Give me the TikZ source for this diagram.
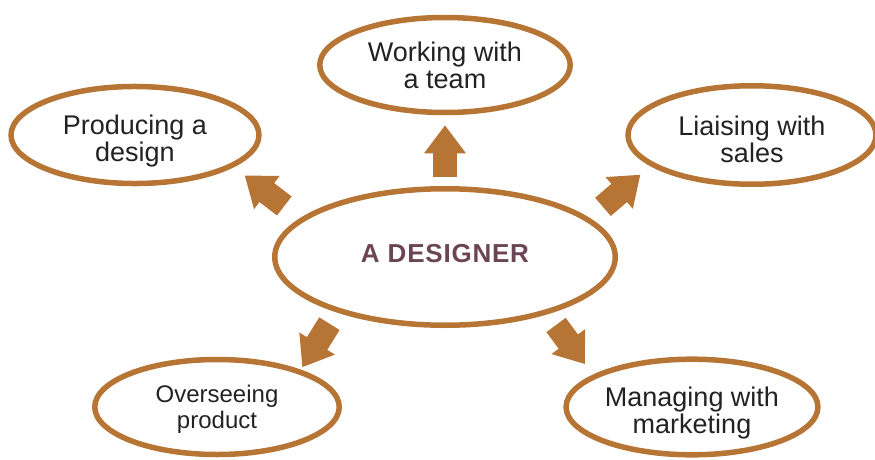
\documentclass[tikz,border=0pt]{standalone}
\usepackage{fontspec}
\setmainfont{Liberation Sans}
\usepackage{xcolor}
\usepackage{tikz}
\usetikzlibrary{shapes.geometric,arrows.meta}
\definecolor{rim}{HTML}{B77535}
\definecolor{plum}{HTML}{6B4553}
\definecolor{ink}{HTML}{222222}
\newcommand\lift[1]{\rule{0pt}{#1}}

\begin{document}
\begin{tikzpicture}[x=1pt,y=1pt,
  bubble/.style={draw=rim,line width=5.5pt,ellipse,align=center,text=ink,
    minimum width=248pt,minimum height=95pt,inner sep=2pt,
    font=\fontsize{27}{27}\selectfont},
  fat/.style={draw=rim,line width=24pt,-{Triangle[width=40pt,length=28pt]}}]
\useasboundingbox (0,0) rectangle (875,-460);
\node[bubble,minimum width=340.5pt,minimum height=136.5pt,text=plum,text depth=8pt,
  font=\bfseries\fontsize{26}{26}\selectfont\addfontfeatures{LetterSpace=3}] (designer) at (445,-257) {A DESIGNER};
\node[bubble,minimum width=250.5pt] (team) at (445,-65) {Working with\\a team};
\node[bubble] (design) at (135,-135) {\lift{32pt}Producing a\\design};
\node[bubble,minimum height=98.5pt] (sales) at (752,-135) {\lift{28pt}Liaising with\\sales};
\node[bubble,minimum width=244.5pt,font=\fontsize{24}{26}\selectfont] (product) at (217,-407) {\lift{21pt}Overseeing\\product};
\node[bubble] (marketing) at (692,-407) {\lift{31pt}Managing with\\marketing};
\draw[fat,shorten <=9pt,shorten >=10pt] (designer.north) -- (team.south);
\draw[fat,shorten <=20pt,shorten >=13.7pt] (designer.165.1) -- (design.342.4);
\draw[fat,shorten <=17.3pt,shorten >=13.2pt] (designer.15.1) -- (sales.197.6);
\draw[fat,shorten <=13.4pt,shorten >=2.9pt] (designer.207.7) -- (product.24.3);
\draw[fat,shorten <=13.6pt,shorten >=13.3pt] (designer.331) -- (marketing.162.5);
\end{tikzpicture}
\end{document}
